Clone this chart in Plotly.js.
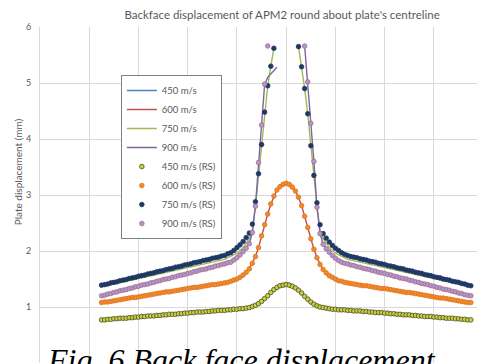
<!DOCTYPE html>
<html>
<head>
<meta charset="utf-8">
<script src="https://cdn.plot.ly/plotly-3.0.1.min.js"></script>
<style>html,body{margin:0;padding:0;overflow:hidden;background:#fff}#chart{width:477px;height:364px}</style>
</head>
<body>
<div id="chart"></div>
<script>
// Distance from plate centre (sample positions of the RS markers)
const xRS = [-150,-147.5,-145,-142.5,-140,-137.5,-135,-132.5,-130,-127.5,-125,-122.5,-120,-117.5,-115,-112.5,-110,-107.5,-105,-102.5,-100,-97.5,-95,-92.5,-90,-87.5,-85,-82.5,-80,-77.5,-75,-72.5,-70,-67.5,-65,-62.5,-60,-57.5,-55,-52.5,-50,-47.5,-45,-42.5,-40,-37.5,-35,-32.5,-30,-27.5,-25,-22.5,-20,-17.5,-15,-12.5,-10,-7.5,-5,-2.5,0,2.5,5,7.5,10,12.5,15,17.5,20,22.5,25,27.5,30,32.5,35,37.5,40,42.5,45,47.5,50,52.5,55,57.5,60,62.5,65,67.5,70,72.5,75,77.5,80,82.5,85,87.5,90,92.5,95,97.5,100,102.5,105,107.5,110,112.5,115,117.5,120,122.5,125,127.5,130,132.5,135,137.5,140,142.5,145,147.5,150];

const rs450 = [0.77,0.77,0.78,0.78,0.79,0.79,0.80,0.80,0.80,0.81,0.81,0.82,0.82,0.83,0.83,0.84,0.84,0.84,0.85,0.85,0.86,0.86,0.87,0.87,0.87,0.88,0.88,0.89,0.89,0.90,0.90,0.91,0.91,0.91,0.92,0.92,0.93,0.93,0.94,0.94,0.94,0.95,0.95,0.96,0.96,0.97,0.97,0.98,0.99,1.01,1.03,1.06,1.10,1.15,1.20,1.26,1.31,1.35,1.38,1.39,
1.40,
1.39,1.37,1.34,1.30,1.25,1.19,1.14,1.09,1.05,1.02,1.00,0.99,0.98,0.97,0.96,0.96,0.95,0.95,0.95,0.94,0.94,0.93,0.93,0.93,0.92,0.92,0.91,0.91,0.90,0.90,0.90,0.89,0.89,0.88,0.88,0.87,0.87,0.86,0.86,0.86,0.85,0.85,0.84,0.84,0.83,0.83,0.83,0.82,0.82,0.81,0.81,0.80,0.80,0.80,0.79,0.79,0.78,0.78,0.77,0.77];

const rs600 = [1.08,1.09,1.09,1.10,1.11,1.12,1.13,1.14,1.15,1.16,1.17,1.17,1.18,1.19,1.20,1.21,1.22,1.23,1.24,1.25,1.26,1.27,1.27,1.28,1.29,1.30,1.31,1.32,1.33,1.34,1.35,1.35,1.36,1.37,1.38,1.39,1.40,1.40,1.41,1.42,1.43,1.44,1.46,1.48,1.50,1.53,1.57,1.62,1.68,1.78,1.90,2.06,2.27,2.47,2.66,2.84,2.98,3.09,3.15,3.19,
3.21,
3.19,3.14,3.07,2.96,2.81,2.62,2.42,2.22,2.03,1.88,1.76,1.67,1.61,1.56,1.53,1.50,1.47,1.46,1.44,1.43,1.42,1.41,1.40,1.39,1.38,1.38,1.37,1.36,1.35,1.34,1.33,1.33,1.32,1.31,1.30,1.29,1.28,1.27,1.26,1.26,1.25,1.24,1.23,1.22,1.21,1.20,1.19,1.18,1.17,1.16,1.16,1.15,1.14,1.13,1.12,1.11,1.10,1.09,1.08,1.08];

const rs750 = [1.39,1.40,1.41,1.43,1.44,1.45,1.47,1.48,1.49,1.51,1.52,1.53,1.55,1.56,1.57,1.59,1.60,1.61,1.63,1.64,1.65,1.67,1.68,1.69,1.71,1.72,1.73,1.75,1.76,1.77,1.79,1.80,1.81,1.83,1.84,1.85,1.87,1.88,1.89,1.91,1.92,1.95,1.97,2.01,2.06,2.11,2.17,2.24,2.32,2.48,2.88,3.38,3.90,4.48,4.95,5.30,5.62,null,null,null,
null,
null,null,null,5.65,5.29,4.90,4.45,3.88,3.35,2.86,2.47,2.31,2.23,2.16,2.10,2.05,2.01,1.97,1.94,1.92,1.90,1.89,1.88,1.86,1.85,1.84,1.82,1.81,1.80,1.78,1.77,1.76,1.74,1.73,1.72,1.70,1.69,1.68,1.66,1.65,1.64,1.62,1.61,1.60,1.58,1.57,1.56,1.54,1.53,1.52,1.50,1.49,1.48,1.46,1.45,1.44,1.42,1.41,1.39,1.38];

const rs900 = [1.20,1.21,1.23,1.24,1.26,1.27,1.29,1.30,1.31,1.33,1.34,1.36,1.37,1.39,1.40,1.41,1.43,1.44,1.46,1.47,1.49,1.50,1.51,1.53,1.54,1.56,1.57,1.58,1.60,1.61,1.63,1.64,1.66,1.67,1.68,1.70,1.71,1.73,1.74,1.76,1.77,1.79,1.80,1.84,1.88,1.93,1.99,2.05,2.13,2.33,2.80,3.58,4.25,4.98,5.66,null,null,null,null,null,
null,
null,null,null,null,null,5.66,5.02,4.28,3.60,2.78,2.31,2.12,2.04,1.98,1.92,1.87,1.83,1.80,1.78,1.77,1.75,1.74,1.72,1.71,1.69,1.68,1.67,1.65,1.64,1.62,1.61,1.60,1.58,1.57,1.55,1.54,1.52,1.51,1.50,1.48,1.47,1.45,1.44,1.42,1.41,1.40,1.38,1.37,1.35,1.34,1.32,1.31,1.30,1.28,1.27,1.25,1.24,1.22,1.21,1.20];

// Simulation lines
const xLine = [-150,-140,-130,-120,-110,-100,-90,-80,-70,-60,-50,-40,-35,-30,-27.5,-25,-22.5,-20,-17.5,-15,-12.5,-10,-7.5,-5,-2.5,0,2.5,5,7.5,10,12.5,15,17.5,20,22.5,25,27.5,30,35,40,50,60,70,80,90,100,110,120,130,140,150];
const line450 = [0.77,0.79,0.80,0.82,0.84,0.86,0.87,0.89,0.91,0.93,0.94,0.96,0.975,0.995,1.01,1.03,1.06,1.10,1.15,1.21,1.27,1.32,1.37,1.40,1.42,1.43,1.42,1.40,1.36,1.31,1.26,1.20,1.14,1.09,1.05,1.02,1.00,0.99,0.97,0.95,0.94,0.92,0.90,0.89,0.87,0.85,0.84,0.82,0.80,0.79,0.77];
const line600 = [1.08,1.11,1.15,1.18,1.22,1.26,1.29,1.33,1.36,1.40,1.43,1.50,1.57,1.68,1.78,1.90,2.06,2.27,2.47,2.66,2.84,2.98,3.09,3.15,3.19,3.21,3.19,3.14,3.07,2.96,2.81,2.62,2.42,2.22,2.03,1.88,1.76,1.67,1.56,1.50,1.43,1.39,1.36,1.33,1.29,1.26,1.22,1.18,1.15,1.11,1.08];
const line750 = [1.36,1.41,1.46,1.51,1.56,1.61,1.66,1.71,1.76,1.80,1.85,1.96,2.06,2.22,2.38,2.80,3.33,3.88,4.47,4.95,5.30,5.62,null,null,null,null,null,null,null,5.65,5.29,4.90,4.45,3.88,3.33,2.80,2.38,2.22,2.06,1.96,1.85,1.80,1.75,1.70,1.65,1.60,1.55,1.50,1.45,1.41,1.36];
const line900 = [1.20,1.26,1.31,1.37,1.43,1.49,1.54,1.60,1.66,1.71,1.77,1.88,1.99,2.13,2.33,2.80,3.58,4.25,4.98,5.10,5.16,5.22,5.28,null,null,null,null,null,null,null,null,5.66,5.02,4.28,3.60,2.78,2.31,2.12,1.98,1.87,1.77,1.71,1.65,1.60,1.54,1.48,1.42,1.37,1.31,1.25,1.20];

const lineNames = ['450 m/s','600 m/s','750 m/s','900 m/s'];
const rsNames = ['450 m/s (RS)','600 m/s (RS)','750 m/s (RS)','900 m/s (RS)'];
const lineColors = ['#4f81bd','#c0504d','#9bbb59','#8064a2'];
const rsFill = ['#c8d23c','#f08a2c','#1f3864','#9c9fd6'];
const rsEdge = ['#4a4a2a','#e0701c','#1f3864','#c0607e'];

const lineData = [line450, line600, line750, line900];
const rsData = [rs450, rs600, rs750, rs900];

const traces = [];
lineData.forEach((y, i) => traces.push({
  type: 'scatter', mode: 'lines', x: xLine, y: y, name: lineNames[i],
  line: {color: lineColors[i], width: 1.4}, connectgaps: false
}));
rsData.forEach((y, i) => traces.push({
  type: 'scatter', mode: 'markers', x: xRS, y: y, name: rsNames[i],
  marker: {size: 4.6, color: rsFill[i], line: {color: rsEdge[i], width: 0.8}}
}));

const font = 'Lato, "Open Sans", sans-serif';
const layout = {
  width: 477, height: 364,
  margin: {l: 40, r: 0, t: 27, b: 1, pad: 0},
  paper_bgcolor: '#ffffff', plot_bgcolor: '#ffffff',
  font: {family: font, color: '#595959', size: 10},
  title: {text: "Backface displacement of APM2 round about plate's centreline",
          font: {family: font, size: 11.5, color: '#595959'},
          xref: 'paper', x: 0.554, xanchor: 'center', y: 0.958, yanchor: 'middle'},
  xaxis: {range: [-200, 155], tick0: -200, dtick: 40, showticklabels: false,
          showgrid: true, gridcolor: '#d9d9d9', gridwidth: 1, zeroline: false,
          showline: false, ticks: ''},
  yaxis: {range: [0, 6], dtick: 1, showgrid: true, gridcolor: '#d9d9d9', gridwidth: 1,
          zeroline: false, showline: true, linecolor: '#d9d9d9', linewidth: 1,
          ticks: '', ticklabelstandoff: 6,
          tickfont: {family: font, size: 9, color: '#595959'}},
  showlegend: true,
  legend: {x: 0.185, y: 0.857, xanchor: 'left', yanchor: 'top', xref: 'paper', yref: 'paper',
           bgcolor: '#ffffff', bordercolor: '#7f7f7f', borderwidth: 1,
           font: {family: font, size: 9.5, color: '#595959'}, itemwidth: 30},
  annotations: [
    {text: 'Plate displacement (mm)', textangle: -90, xref: 'paper', yref: 'paper',
     x: -0.05, y: 0.568, xanchor: 'center', yanchor: 'middle', showarrow: false,
     font: {family: font, size: 10, color: '#595959'}},
    {text: '<i>Fig. 6 Back face displacement</i>', xref: 'paper', yref: 'paper',
     x: 0.012, y: 0.068, xanchor: 'left', yanchor: 'top', showarrow: false,
     font: {family: '"Liberation Serif", "DejaVu Serif", serif', size: 32, color: '#000000'}}
  ]
};

Plotly.newPlot('chart', traces, layout, {displayModeBar: false, staticPlot: true});
</script>
</body>
</html>
